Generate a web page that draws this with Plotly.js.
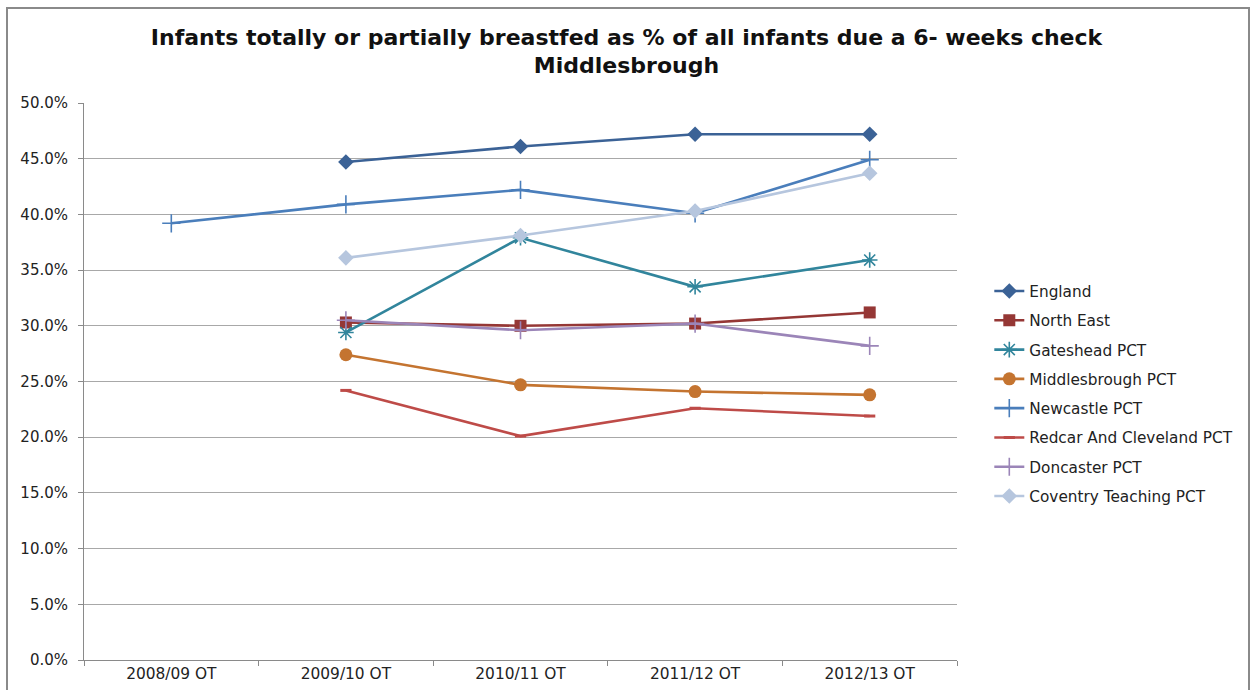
<!DOCTYPE html>
<html>
<head>
<meta charset="utf-8">
<script src="https://cdn.plot.ly/plotly-3.0.1.min.js"></script>
<style>
  html, body { margin: 0; padding: 0; background: #fff; }
  #chart { width: 1253px; height: 690px; }
  #frame { position: absolute; left: 6px; top: 7px; width: 1240px; height: 700px;
           border: 2px solid #8a8a8a; pointer-events: none; }
</style>
</head>
<body>
<div id="chart"></div>
<div id="frame"></div>
<script>
const categories = ["2008/09 OT", "2009/10 OT", "2010/11 OT", "2011/12 OT", "2012/13 OT"];

const england       = [null, 0.447, 0.461, 0.472, 0.472];
const northEast     = [null, 0.303, 0.300, 0.302, 0.312];
const gateshead     = [null, 0.294, 0.379, 0.335, 0.359];
const middlesbrough = [null, 0.274, 0.247, 0.241, 0.238];
const newcastle     = [0.392, 0.409, 0.422, 0.401, 0.449];
const redcar        = [null, 0.242, 0.201, 0.226, 0.219];
const doncaster     = [null, 0.305, 0.296, 0.302, 0.282];
const coventry      = [null, 0.361, 0.381, 0.403, 0.437];

const seriesNames = ["England", "North East", "Gateshead PCT", "Middlesbrough PCT",
  "Newcastle PCT", "Redcar And Cleveland PCT", "Doncaster PCT", "Coventry Teaching PCT"];

function tr(name, y, color, symbol, size, mlw) {
  return {
    type: "scatter", mode: "lines+markers", name: name, legendgroup: name,
    x: categories, y: y,
    line: { color: color, width: 2.6 },
    marker: { symbol: symbol, size: size, color: color,
              line: { color: color, width: mlw } },
    hoverinfo: "x+y+name"
  };
}

const data = [
  tr(seriesNames[0], england, "#3B6296", "diamond", 12, 0),
  tr(seriesNames[1], northEast, "#953735", "square", 12, 0),
  tr(seriesNames[2], gateshead, "#31859C", "asterisk-open", 13, 1.6),
  tr(seriesNames[3], middlesbrough, "#C47430", "circle", 13, 0),
  tr(seriesNames[4], newcastle, "#4A7EBB", "cross-thin-open", 13, 1.6),
  tr(seriesNames[5], redcar, "#BE4B48", "line-ew-open", 8, 3),
  tr(seriesNames[6], doncaster, "#9B85B8", "cross-thin-open", 13, 1.6),
  tr(seriesNames[7], coventry, "#B6C6DE", "diamond", 12, 0)
];

const layout = {
  width: 1253, height: 690,
  margin: { l: 84, r: 296, t: 103, b: 30, pad: 0 },
  paper_bgcolor: "#fff", plot_bgcolor: "#fff",
  font: { family: "DejaVu Sans, Verdana, sans-serif", size: 15, color: "#222" },
  title: {
    text: "Infants totally or partially breastfed as % of all infants due a 6- weeks check<br>Middlesbrough",
    font: { family: "DejaVu Sans, sans-serif", size: 22, color: "#111", weight: "bold" },
    x: 0.5, xref: "container", xanchor: "center",
    y: 0.935, yref: "container", yanchor: "top"
  },
  xaxis: {
    type: "category", categoryorder: "array", categoryarray: categories,
    range: [-0.5, 4.5], tickson: "boundaries", ticks: "outside", ticklen: 5,
    tickcolor: "#8a8a8a", showgrid: false, showline: true, linecolor: "#8a8a8a",
    linewidth: 1, zeroline: false, fixedrange: true,
    tickfont: { size: 15.4, color: "#222" }
  },
  yaxis: {
    range: [0, 0.5], dtick: 0.05, tick0: 0, tickformat: ".1%",
    ticks: "outside", ticklen: 5, tickcolor: "#8a8a8a", ticklabelstandoff: 7,
    showgrid: true, gridcolor: "#a8a8a8", gridwidth: 1,
    showline: true, linecolor: "#8a8a8a", linewidth: 1, zeroline: false,
    fixedrange: true, tickfont: { size: 15, color: "#222" }
  },
  showlegend: true,
  legend: {
    x: 1.037, xanchor: "left", y: 0.692, yanchor: "top",
    font: { size: 15.3, color: "#222" },
    tracegroupgap: 6.4, bgcolor: "rgba(0,0,0,0)"
  }
};

Plotly.newPlot("chart", data, layout, { displayModeBar: false });
</script>
</body>
</html>
